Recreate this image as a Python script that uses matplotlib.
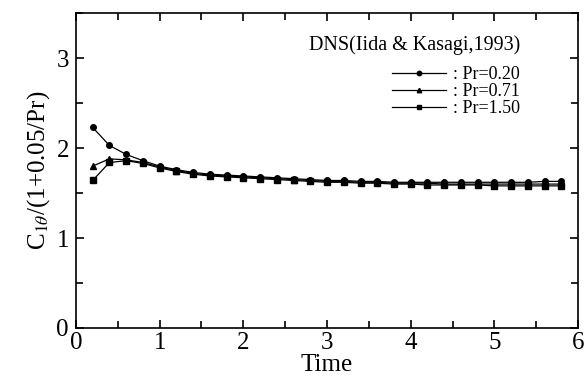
import numpy as np
import matplotlib
matplotlib.use("Agg")
import matplotlib.pyplot as plt
from matplotlib.ticker import MultipleLocator

plt.rcParams['font.family'] = ['Liberation Serif', 'DejaVu Serif']
plt.rcParams['mathtext.fontset'] = 'stix'

# time samples (every 0.2)
time = [0.2, 0.4, 0.6, 0.8, 1.0, 1.2, 1.4, 1.6, 1.8, 2.0, 2.2, 2.4, 2.6, 2.8,
        3.0, 3.2, 3.4, 3.6, 3.8, 4.0, 4.2, 4.4, 4.6, 4.8, 5.0, 5.2, 5.4, 5.6, 5.8]

pr020 = [2.23, 2.03, 1.93, 1.86, 1.80, 1.76, 1.73, 1.71, 1.70, 1.69, 1.68, 1.67, 1.66, 1.65,
         1.64, 1.64, 1.63, 1.63, 1.62, 1.62, 1.62, 1.62, 1.62, 1.62, 1.62, 1.62, 1.62, 1.63, 1.63]
pr071 = [1.80, 1.88, 1.87, 1.84, 1.79, 1.75, 1.72, 1.70, 1.69, 1.68, 1.67, 1.66, 1.65, 1.64,
         1.63, 1.63, 1.62, 1.62, 1.61, 1.61, 1.61, 1.60, 1.60, 1.60, 1.60, 1.60, 1.60, 1.60, 1.60]
pr150 = [1.64, 1.84, 1.86, 1.83, 1.78, 1.74, 1.71, 1.69, 1.68, 1.67, 1.66, 1.65, 1.64, 1.63,
         1.62, 1.62, 1.61, 1.61, 1.60, 1.60, 1.59, 1.59, 1.59, 1.59, 1.58, 1.58, 1.58, 1.58, 1.58]

fig = plt.figure(figsize=(5.84, 3.77), dpi=100)
ax = fig.add_axes([0.130, 0.130, 0.860, 0.835])

ax.plot(time, pr020, 'k-', lw=0.9, marker='o', ms=4, label=': Pr=0.20')
ax.plot(time, pr071, 'k-', lw=0.9, marker='^', ms=4, label=': Pr=0.71')
ax.plot(time, pr150, 'k-', lw=0.9, marker='s', ms=4, label=': Pr=1.50')

ax.set_xlim(0, 6)
ax.set_ylim(0, 3.5)
ax.xaxis.set_major_locator(MultipleLocator(1))
ax.xaxis.set_minor_locator(MultipleLocator(0.5))
ax.yaxis.set_major_locator(MultipleLocator(1))
ax.yaxis.set_minor_locator(MultipleLocator(0.5))
ax.tick_params(which='both', direction='in', top=True, right=True, width=1.2)
ax.tick_params(which='major', length=6, labelsize=18)
ax.tick_params(axis='x', which='major', pad=3)
ax.tick_params(axis='y', which='major', pad=5)
ax.tick_params(which='minor', length=5)
for s in ax.spines.values():
    s.set_linewidth(1.2)

ax.set_xlabel('Time', fontsize=18, labelpad=0)
ax.set_ylabel(r'C$_{1\theta}$/(1+0.05/Pr)', fontsize=18, labelpad=3)

leg = ax.legend(title='DNS(Iida & Kasagi,1993)', loc='upper right',
                bbox_to_anchor=(0.91, 0.97), frameon=False, fontsize=13,
                title_fontsize=14.5, handlelength=3.0, handletextpad=0.4,
                labelspacing=0.0, borderpad=0.2, markerscale=0.8)
leg._legend_box.align = 'right'
leg._legend_box.sep = 8

fig.savefig('out.png', dpi=100)
